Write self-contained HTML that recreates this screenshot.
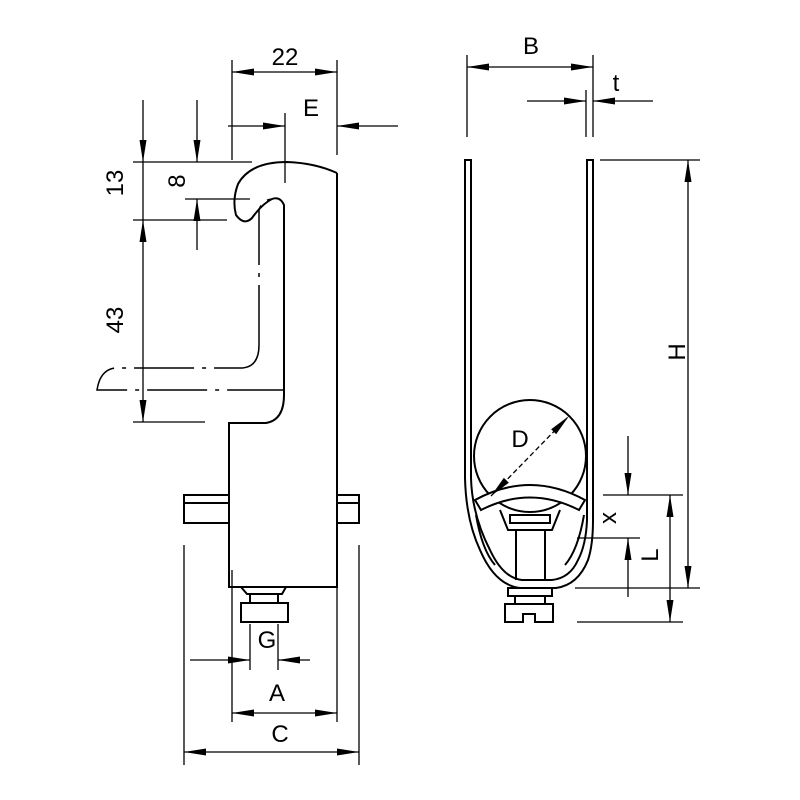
<!DOCTYPE html>
<html><head><style>body{margin:0;background:#fff}svg{display:block}text{font-family:"Liberation Sans",sans-serif;fill:#000}</style></head>
<body>
<svg width="800" height="800" viewBox="0 0 800 800" xmlns="http://www.w3.org/2000/svg">
<defs>
<marker id="b" viewBox="0 0 22 7" refX="22" refY="3.5" markerWidth="22" markerHeight="7" markerUnits="userSpaceOnUse" orient="auto-start-reverse"><path d="M0 0L22 3.5L0 7Z" fill="#000"/></marker>
</defs>
<g fill="none" stroke="#000" stroke-width="2">
<path d="M337 173 L337 587 L229 587 L229 423 L266 423 Q284 420 284 395 L284 205 Q280 196 272 199 Q262 204 252 218 Q244 226 236 215 Q232 200 238 184 Q250 162 287 162 Q315 163 337 173"/>
<path d="M259 345 L259 210 Q262 200 272 199" stroke-width="1.5" stroke-dasharray="60 8 4 8"/>
<path d="M259 345 Q259 368 240 368 L115 368 Q100 370 97 390 L284 390" stroke-width="1.5" stroke-dasharray="60 8 4 8"/>
<rect x="184" y="495" width="45" height="28"/><line x1="184" y1="503" x2="229" y2="503"/>
<rect x="337" y="495" width="22" height="28"/><line x1="337" y1="503" x2="359" y2="503"/>
<path d="M241 587 L247 594 L282 594 L286 587"/>
<rect x="250" y="594" width="28" height="9"/>
<rect x="241" y="603" width="47" height="19"/>
<path d="M465 160 L465 478 Q466 520 480 550 Q495 585 520 588 L556 588 Q578 585 588 560 Q593 545 593 520 L593 160 L587 160 L587 520 Q586 545 578 560 Q570 578 552 580 L522 580 Q503 578 490 550 Q472 515 471 478 L471 160 Z"/>
<circle cx="530" cy="456" r="56"/>
<path d="M475 500 Q530 470 585 500 L579 510 Q530 485 481 510 Z" fill="#fff"/>
<path d="M500 510 L508 530 L552 530 L560 510"/>
<rect x="510" y="515" width="40" height="8"/>
<line x1="516" y1="530" x2="516" y2="580"/><line x1="545" y1="530" x2="545" y2="580"/>
<path d="M476 515 Q482 550 495 565"/><path d="M584 515 Q578 550 565 565"/>
<rect x="508" y="588" width="44" height="8"/>
<path d="M505 604 L553 604 L553 622 L535 622 L535 614 L523 614 L523 622 L505 622 Z"/>
<rect x="515" y="596" width="30" height="8"/>
</g>
<g fill="none" stroke="#000" stroke-width="1.3">
<line x1="232" y1="60" x2="232" y2="160"/><line x1="337" y1="60" x2="337" y2="155"/>
<line x1="232" y1="72" x2="337" y2="72" marker-start="url(#b)" marker-end="url(#b)"/>
<line x1="285" y1="113" x2="285" y2="183"/>
<line x1="228" y1="126" x2="285" y2="126" marker-end="url(#b)"/>
<line x1="398" y1="126" x2="337" y2="126" marker-end="url(#b)"/>
<line x1="133" y1="162" x2="252" y2="162"/><line x1="133" y1="220" x2="227" y2="220"/><line x1="133" y1="422" x2="205" y2="422"/>
<line x1="185" y1="199" x2="250" y2="199"/>
<line x1="143" y1="100" x2="143" y2="162" marker-end="url(#b)"/>
<line x1="143" y1="162" x2="143" y2="220"/>
<line x1="143" y1="220" x2="143" y2="422" marker-start="url(#b)" marker-end="url(#b)"/>
<line x1="197" y1="100" x2="197" y2="162" marker-end="url(#b)"/>
<line x1="197" y1="250" x2="197" y2="199" marker-end="url(#b)"/>
<line x1="184" y1="545" x2="184" y2="765"/><line x1="359" y1="545" x2="359" y2="765"/>
<line x1="232" y1="570" x2="232" y2="722"/><line x1="337" y1="570" x2="337" y2="722"/>
<line x1="250" y1="624" x2="250" y2="670"/><line x1="278" y1="624" x2="278" y2="670"/>
<line x1="190" y1="660" x2="250" y2="660" marker-end="url(#b)"/>
<line x1="310" y1="660" x2="278" y2="660" marker-end="url(#b)"/>
<line x1="232" y1="713" x2="337" y2="713" marker-start="url(#b)" marker-end="url(#b)"/>
<line x1="184" y1="752" x2="359" y2="752" marker-start="url(#b)" marker-end="url(#b)"/>
<line x1="467" y1="55" x2="467" y2="137"/><line x1="593" y1="55" x2="593" y2="137"/><line x1="586" y1="90" x2="586" y2="137"/>
<line x1="467" y1="67" x2="593" y2="67" marker-start="url(#b)" marker-end="url(#b)"/>
<line x1="527" y1="101" x2="586" y2="101" marker-end="url(#b)"/>
<line x1="653" y1="101" x2="593" y2="101" marker-end="url(#b)"/>
<line x1="600" y1="160" x2="700" y2="160"/><line x1="575" y1="588" x2="700" y2="588"/>
<line x1="688" y1="160" x2="688" y2="588" marker-start="url(#b)" marker-end="url(#b)"/>
<line x1="603" y1="495" x2="683" y2="495"/><line x1="577" y1="538" x2="640" y2="538"/><line x1="577" y1="622" x2="683" y2="622"/>
<line x1="628" y1="436" x2="628" y2="495" marker-end="url(#b)"/>
<line x1="628" y1="597" x2="628" y2="538" marker-end="url(#b)"/>
<line x1="670" y1="495" x2="670" y2="622" marker-start="url(#b)" marker-end="url(#b)"/>
<line x1="491" y1="496" x2="569" y2="416" stroke-dasharray="5 3" marker-start="url(#b)" marker-end="url(#b)"/>
</g>
<g font-size="24">
<text x="285" y="65" text-anchor="middle">22</text>
<text x="311" y="116" text-anchor="middle">E</text>
<text x="123" y="183" text-anchor="middle" transform="rotate(-90 123 183)">13</text>
<text x="185" y="181" text-anchor="middle" transform="rotate(-90 185 181)">8</text>
<text x="123" y="320" text-anchor="middle" transform="rotate(-90 123 320)">43</text>
<text x="267" y="648" text-anchor="middle">G</text>
<text x="277" y="701" text-anchor="middle">A</text>
<text x="280" y="742" text-anchor="middle">C</text>
<text x="531" y="54" text-anchor="middle">B</text>
<text x="616" y="91" text-anchor="middle">t</text>
<text x="685" y="352" text-anchor="middle" transform="rotate(-90 685 352)">H</text>
<text x="520" y="447" text-anchor="middle">D</text>
<text x="616" y="518" text-anchor="middle" transform="rotate(-90 616 518)">x</text>
<text x="658" y="555" text-anchor="middle" transform="rotate(-90 658 555)">L</text>
</g>
</svg>
</body></html>
